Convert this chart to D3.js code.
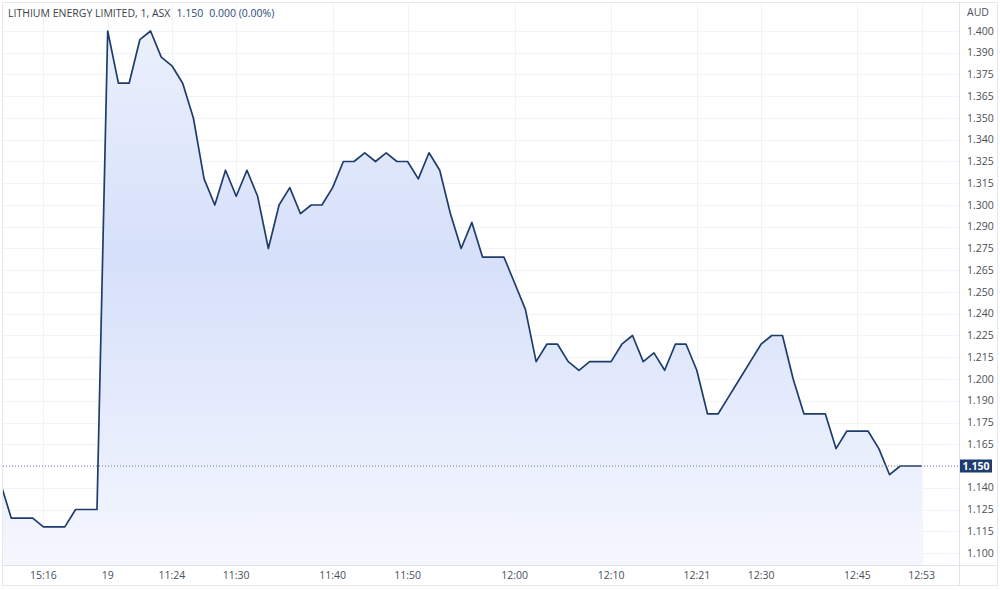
<!DOCTYPE html>
<html lang="en">
<head>
<meta charset="UTF-8">
<script src="https://cdn.jsdelivr.net/npm/d3@7"></script>
<style>
body { margin: 0; background: #fff; font-family: "Open Sans", "Liberation Sans", Arial, sans-serif; }
.grid line { stroke: #f0f3fa; stroke-width: 1px; shape-rendering: crispEdges; }
.axis text { font-size: 10.5px; fill: #4a4f5a; }
</style>
</head>
<body>
<div id="chart"></div>
<script>
// one-minute closes, by bar index
const prices = [
  1.140, 1.120, 1.120, 1.120, 1.115, 1.115, 1.115, 1.125, 1.125, 1.125,
  1.400, 1.370, 1.370, 1.395, 1.400, 1.385, 1.380, 1.370, 1.350, 1.315,
  1.300, 1.320, 1.305, 1.320, 1.305, 1.275, 1.300, 1.310, 1.295, 1.300,
  1.300, 1.310, 1.325, 1.325, 1.330, 1.325, 1.330, 1.325, 1.325, 1.315,
  1.330, 1.320, 1.295, 1.275, 1.290, 1.270, 1.270, 1.270, 1.255, 1.240,
  1.210, 1.220, 1.220, 1.210, 1.205, 1.210, 1.210, 1.210, 1.220, 1.225,
  1.210, 1.215, 1.205, 1.220, 1.220, 1.205, 1.180, 1.180, 1.190, 1.200,
  1.210, 1.220, 1.225, 1.225, 1.200, 1.180, 1.180, 1.180, 1.160, 1.170,
  1.170, 1.170, 1.160, 1.145, 1.150, 1.150, 1.150
];
const timeTickIndex = [4, 10, 16, 22, 31, 38, 48, 57, 65, 71, 80, 86];
const timeTickLabels = ["15:16", "19", "11:24", "11:30", "11:40", "11:50", "12:00", "12:10", "12:21", "12:30", "12:45", "12:53"];
const priceTickLabels = ["1.100", "1.115", "1.125", "1.140", "1.150", "1.165", "1.175", "1.190", "1.200",
  "1.215", "1.225", "1.240", "1.250", "1.265", "1.275", "1.290", "1.300", "1.315", "1.325",
  "1.340", "1.350", "1.365", "1.375", "1.390", "1.400"];
const title = "LITHIUM ENERGY LIMITED, 1, ASX";
const lastPrice = 1.150;
const change = "0.000 (0.00%)";
const currency = "AUD";

const W = 1000, H = 590;
const plot = {left: 3, top: 3, right: 959, bottom: 565};

const x = d3.scaleLinear().domain([0, prices.length - 1]).range([0.6, 921.7]);
const y = d3.scaleLinear().domain([1.1, 1.4]).range([553, 31]);
const yTicks = priceTickLabels.map((d, i) => 1.1 + i * 0.0125);
const fmt = d3.format(".3f");

const svg = d3.select("#chart").append("svg")
  .attr("width", W).attr("height", H);

const defs = svg.append("defs");
const grad = defs.append("linearGradient").attr("id", "fill")
  .attr("gradientUnits", "userSpaceOnUse")
  .attr("x1", 0).attr("x2", 0).attr("y1", plot.top).attr("y2", plot.bottom);
grad.append("stop").attr("offset", "0%").attr("stop-color", "#eef2fd");
grad.append("stop").attr("offset", "45%").attr("stop-color", "#d6e0fa");
grad.append("stop").attr("offset", "100%").attr("stop-color", "#f5f7fe");
defs.append("clipPath").attr("id", "clip").append("rect")
  .attr("x", plot.left).attr("y", plot.top)
  .attr("width", plot.right - plot.left).attr("height", plot.bottom - plot.top);

// grid
const grid = svg.append("g").attr("class", "grid");
grid.selectAll(".h").data(yTicks).enter().append("line")
  .attr("x1", plot.left).attr("x2", plot.right)
  .attr("y1", d => Math.round(y(d)) + 0.5).attr("y2", d => Math.round(y(d)) + 0.5);
grid.selectAll(".v").data(timeTickIndex).enter().append("line")
  .attr("y1", plot.top).attr("y2", plot.bottom)
  .attr("x1", d => Math.round(x(d)) + 0.5).attr("x2", d => Math.round(x(d)) + 0.5);

const g = svg.append("g").attr("clip-path", "url(#clip)");

g.append("path").datum(prices)
  .attr("fill", "url(#fill)")
  .attr("d", d3.area().x((d, i) => x(i)).y0(plot.bottom).y1(d => y(d)));

// last price dotted line
svg.append("line")
  .attr("x1", plot.left).attr("x2", plot.right)
  .attr("y1", y(lastPrice)).attr("y2", y(lastPrice))
  .attr("stroke", "#6b7a99").attr("stroke-width", 1)
  .attr("stroke-dasharray", "1,2");

g.append("path").datum(prices)
  .attr("fill", "none").attr("stroke", "#1f3d6b").attr("stroke-width", 1.7)
  .attr("stroke-linejoin", "round")
  .attr("d", d3.line().x((d, i) => x(i)).y(d => y(d)));

// frame
svg.append("rect").attr("x", 2.5).attr("y", 2.5).attr("width", 995).attr("height", 583)
  .attr("fill", "none").attr("stroke", "#e6e8ee");
svg.append("line").attr("x1", plot.right + 0.5).attr("x2", plot.right + 0.5)
  .attr("y1", 2.5).attr("y2", 585.5).attr("stroke", "#e0e3eb");
svg.append("line").attr("x1", 2.5).attr("x2", 997.5)
  .attr("y1", plot.bottom + 0.5).attr("y2", plot.bottom + 0.5).attr("stroke", "#e0e3eb");

// right price axis (the label under the price tag is hidden)
const yAxis = svg.append("g").attr("class", "axis");
yAxis.selectAll("text").data(yTicks.filter((d, i) => priceTickLabels[i] !== fmt(lastPrice)))
  .enter().append("text")
  .attr("x", 967).attr("y", d => y(d)).attr("dy", "0.35em")
  .text(d => priceTickLabels[yTicks.indexOf(d)]);
yAxis.append("text").attr("x", 967).attr("y", 12).attr("dy", "0.35em").text(currency);

// last price tag
svg.append("rect").attr("x", 960).attr("y", y(lastPrice) - 6.5)
  .attr("width", 32).attr("height", 13).attr("fill", "#1e3c6e");
svg.append("text").attr("x", 976).attr("y", y(lastPrice)).attr("dy", "0.35em")
  .attr("text-anchor", "middle").attr("fill", "#fff")
  .style("font-size", "10.5px").style("font-weight", "bold")
  .text(fmt(lastPrice));

// bottom time axis
const xAxis = svg.append("g").attr("class", "axis");
xAxis.selectAll("text").data(timeTickIndex).enter().append("text")
  .attr("x", d => x(d)).attr("y", 575).attr("dy", "0.35em")
  .attr("text-anchor", "middle")
  .text((d, i) => timeTickLabels[i]);

// legend line
const t = svg.append("text").attr("x", 8).attr("y", 13).attr("dy", "0.35em")
  .style("font-size", "10.5px");
t.append("tspan").attr("fill", "#3a3f4a").text(title);
t.append("tspan").attr("fill", "#2b4b80").attr("dx", 6).text(fmt(lastPrice));
t.append("tspan").attr("fill", "#2b4b80").attr("dx", 6).text(change);
</script>
</body>
</html>
